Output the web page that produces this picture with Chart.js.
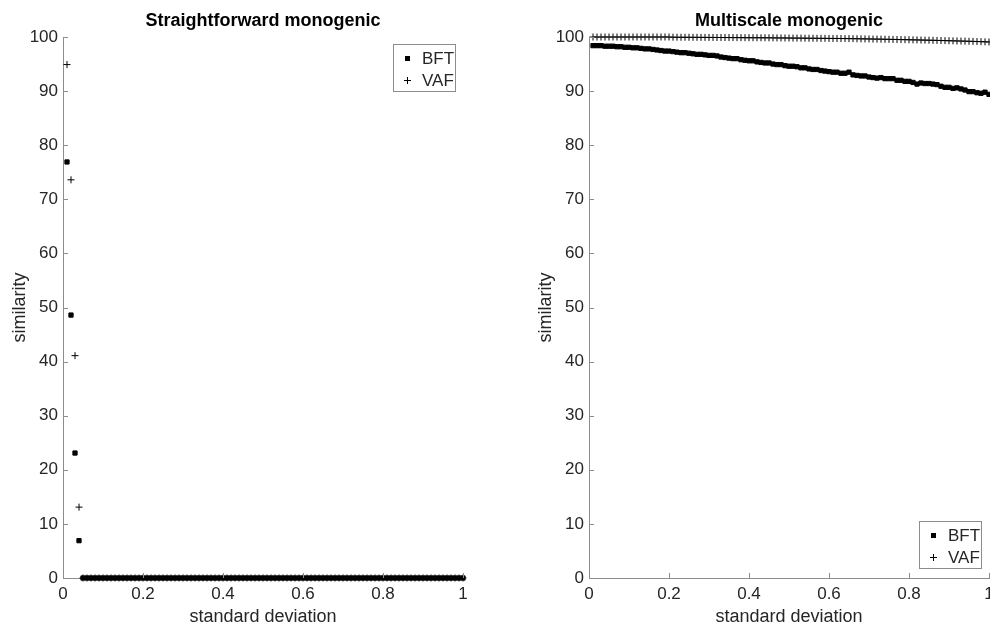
<!DOCTYPE html>
<html>
<head>
<meta charset="utf-8">
<script src="https://cdn.jsdelivr.net/npm/chart.js@4.4.1/dist/chart.umd.min.js"></script>
<style>
  html, body { margin: 0; padding: 0; background: #fff; width: 990px; height: 633px; overflow: hidden; }
  .panel { position: absolute; top: 0; width: 526px; height: 633px; }
  #panel-left { left: 0; }
  #panel-right { left: 526px; }
</style>
</head>
<body>
<div class="panel" id="panel-left"><canvas id="chart-left" width="526" height="633"></canvas></div>
<div class="panel" id="panel-right"><canvas id="chart-right" width="526" height="633"></canvas></div>
<script>
// standard deviation of the added noise
const sigma = [
  0.01, 0.02, 0.03, 0.04, 0.05, 0.06, 0.07, 0.08, 0.09, 0.10,
  0.11, 0.12, 0.13, 0.14, 0.15, 0.16, 0.17, 0.18, 0.19, 0.20,
  0.21, 0.22, 0.23, 0.24, 0.25, 0.26, 0.27, 0.28, 0.29, 0.30,
  0.31, 0.32, 0.33, 0.34, 0.35, 0.36, 0.37, 0.38, 0.39, 0.40,
  0.41, 0.42, 0.43, 0.44, 0.45, 0.46, 0.47, 0.48, 0.49, 0.50,
  0.51, 0.52, 0.53, 0.54, 0.55, 0.56, 0.57, 0.58, 0.59, 0.60,
  0.61, 0.62, 0.63, 0.64, 0.65, 0.66, 0.67, 0.68, 0.69, 0.70,
  0.71, 0.72, 0.73, 0.74, 0.75, 0.76, 0.77, 0.78, 0.79, 0.80,
  0.81, 0.82, 0.83, 0.84, 0.85, 0.86, 0.87, 0.88, 0.89, 0.90,
  0.91, 0.92, 0.93, 0.94, 0.95, 0.96, 0.97, 0.98, 0.99, 1.00
];

// Straightforward monogenic
const straightBFT = [
  76.9, 48.6, 23.1, 6.9, 0, 0, 0, 0, 0, 0,
  0, 0, 0, 0, 0, 0, 0, 0, 0, 0,
  0, 0, 0, 0, 0, 0, 0, 0, 0, 0,
  0, 0, 0, 0, 0, 0, 0, 0, 0, 0,
  0, 0, 0, 0, 0, 0, 0, 0, 0, 0,
  0, 0, 0, 0, 0, 0, 0, 0, 0, 0,
  0, 0, 0, 0, 0, 0, 0, 0, 0, 0,
  0, 0, 0, 0, 0, 0, 0, 0, 0, 0,
  0, 0, 0, 0, 0, 0, 0, 0, 0, 0,
  0, 0, 0, 0, 0, 0, 0, 0, 0, 0
];
const straightVAF = [
  94.9, 73.6, 41.1, 13.1, 0, 0, 0, 0, 0, 0,
  0, 0, 0, 0, 0, 0, 0, 0, 0, 0,
  0, 0, 0, 0, 0, 0, 0, 0, 0, 0,
  0, 0, 0, 0, 0, 0, 0, 0, 0, 0,
  0, 0, 0, 0, 0, 0, 0, 0, 0, 0,
  0, 0, 0, 0, 0, 0, 0, 0, 0, 0,
  0, 0, 0, 0, 0, 0, 0, 0, 0, 0,
  0, 0, 0, 0, 0, 0, 0, 0, 0, 0,
  0, 0, 0, 0, 0, 0, 0, 0, 0, 0,
  0, 0, 0, 0, 0, 0, 0, 0, 0, 0
];

// Multiscale monogenic
const multiBFT = [
  98.4, 98.4, 98.4, 98.3, 98.3, 98.3, 98.2, 98.2, 98.1, 98.1,
  98.0, 98.0, 97.9, 97.8, 97.8, 97.7, 97.6, 97.5, 97.4, 97.4,
  97.3, 97.2, 97.1, 97.1, 97.0, 96.9, 96.8, 96.8, 96.7, 96.6,
  96.6, 96.5, 96.3, 96.2, 96.1, 96.0, 96.0, 95.8, 95.7, 95.6,
  95.6, 95.4, 95.3, 95.2, 95.2, 95.0, 94.9, 94.9, 94.7, 94.6,
  94.6, 94.5, 94.3, 94.3, 94.1, 94.0, 94.0, 93.8, 93.7, 93.6,
  93.5, 93.5, 93.3, 93.3, 93.5, 93.0, 92.9, 92.8, 92.8, 92.6,
  92.5, 92.4, 92.5, 92.3, 92.3, 92.3, 92.0, 92.0, 91.8, 91.8,
  91.6, 91.3, 91.5, 91.4, 91.4, 91.3, 91.2, 90.9, 90.7, 90.7,
  90.5, 90.6, 90.4, 90.2, 89.9, 89.9, 89.7, 89.6, 89.8, 89.4
];
const multiVAF = [
  100.0, 100.0, 100.0, 100.0, 100.0, 100.0, 100.0, 100.0, 100.0, 100.0,
  100.0, 100.0, 100.0, 100.0, 100.0, 100.0, 100.0, 100.0, 100.0, 100.0,
  99.96, 99.96, 99.95, 99.95, 99.95, 99.94, 99.94, 99.93, 99.93, 99.92,
  99.92, 99.91, 99.91, 99.90, 99.90, 99.89, 99.89, 99.88, 99.87, 99.87,
  99.87, 99.86, 99.86, 99.85, 99.85, 99.84, 99.83, 99.82, 99.82, 99.81,
  99.80, 99.80, 99.79, 99.78, 99.77, 99.77, 99.76, 99.75, 99.75, 99.74,
  99.73, 99.73, 99.72, 99.71, 99.70, 99.69, 99.68, 99.66, 99.65, 99.64,
  99.62, 99.61, 99.60, 99.58, 99.57, 99.55, 99.54, 99.52, 99.51, 99.49,
  99.47, 99.46, 99.44, 99.42, 99.41, 99.39, 99.37, 99.35, 99.33, 99.31,
  99.29, 99.27, 99.25, 99.23, 99.21, 99.19, 99.16, 99.14, 99.11, 99.08
];

const seriesNames = ['BFT', 'VAF'];
const xTicks = [0, 0.2, 0.4, 0.6, 0.8, 1];
const yTicks = [0, 10, 20, 30, 40, 50, 60, 70, 80, 90, 100];

const FONT = '"Liberation Sans", Arial, sans-serif';
const AXIS_COLOR = '#8c8c8c';
const TEXT_COLOR = '#262626';

// title, inward ticks and boxed legend, the way the matlab figure has them
const panelDecor = {
  id: 'panelDecor',
  afterDraw(chart, args, opts) {
    const {ctx, chartArea: a, scales: {x, y}} = chart;
    ctx.save();
    ctx.strokeStyle = AXIS_COLOR;
    ctx.lineWidth = 1;
    ctx.beginPath();
    x.ticks.forEach(t => {
      const px = Math.round(x.getPixelForValue(t.value)) + 0.5;
      ctx.moveTo(px, a.bottom);
      ctx.lineTo(px, a.bottom - 5);
    });
    y.ticks.forEach(t => {
      const py = Math.round(y.getPixelForValue(t.value)) + 0.5;
      ctx.moveTo(a.left, py);
      ctx.lineTo(a.left + 5, py);
    });
    ctx.stroke();

    ctx.fillStyle = '#000';
    ctx.font = 'bold 18px ' + FONT;
    ctx.textAlign = 'center';
    ctx.textBaseline = 'middle';
    ctx.fillText(opts.title, (a.left + a.right) / 2, 21);

    const w = 62, h = 47;
    const left = a.right - 8 - w;
    const top = opts.legendAt === 'top' ? a.top + 7 : a.bottom - 10 - h;
    ctx.fillStyle = '#fff';
    ctx.fillRect(left, top, w, h);
    ctx.strokeStyle = AXIS_COLOR;
    ctx.strokeRect(left + 0.5, top + 0.5, w, h);
    ctx.font = '17px ' + FONT;
    ctx.textAlign = 'left';
    chart.data.datasets.forEach((ds, i) => {
      const cy = top + 14 + i * 22;
      const cx = left + 14;
      ctx.fillStyle = '#000';
      ctx.strokeStyle = '#000';
      if (ds.pointStyle === 'rect') {
        ctx.fillRect(cx - 2, cy - 2, 5, 5);
      } else {
        ctx.beginPath();
        ctx.moveTo(cx - 3, cy + 0.5); ctx.lineTo(cx + 4, cy + 0.5);
        ctx.moveTo(cx + 0.5, cy - 3); ctx.lineTo(cx + 0.5, cy + 4);
        ctx.stroke();
      }
      ctx.fillStyle = TEXT_COLOR;
      ctx.fillText(ds.label, left + 29, cy + 1);
    });
    ctx.restore();
  }
};

function toPoints(values) {
  return values.map((v, i) => ({x: sigma[i], y: v}));
}

function makePanel(canvasId, title, bft, vaf, legendAt) {
  return new Chart(document.getElementById(canvasId), {
    type: 'scatter',
    data: {
      datasets: [
        {
          label: seriesNames[0],
          data: toPoints(bft),
          pointStyle: 'rect',
          pointRadius: 3,
          borderWidth: 1,
          backgroundColor: '#000',
          borderColor: '#000',
          clip: false
        },
        {
          label: seriesNames[1],
          data: toPoints(vaf),
          pointStyle: 'cross',
          pointRadius: 3.5,
          borderWidth: 1,
          backgroundColor: '#000',
          borderColor: '#000',
          clip: false
        }
      ]
    },
    options: {
      responsive: false,
      animation: false,
      devicePixelRatio: 1,
      layout: {padding: {top: 37, right: 63, left: 0, bottom: 0}},
      plugins: {
        legend: {display: false},
        tooltip: {enabled: false},
        panelDecor: {title: title, legendAt: legendAt}
      },
      scales: {
        x: {
          type: 'linear',
          min: 0,
          max: 1,
          afterFit(scale) { scale.height = 55; },
          afterBuildTicks(scale) { scale.ticks = xTicks.map(v => ({value: v})); },
          ticks: {color: TEXT_COLOR, font: {family: FONT, size: 17}, padding: 6, maxRotation: 0,
                  callback: v => String(v)},
          grid: {display: false, drawTicks: false},
          border: {display: true, color: AXIS_COLOR, width: 1},
          title: {display: true, text: 'standard deviation', color: TEXT_COLOR,
                  font: {family: FONT, size: 18}, padding: {top: 0, bottom: 5}}
        },
        y: {
          type: 'linear',
          min: 0,
          max: 100,
          afterFit(scale) { scale.width = 63; },
          afterBuildTicks(scale) { scale.ticks = yTicks.map(v => ({value: v})); },
          ticks: {color: TEXT_COLOR, font: {family: FONT, size: 17}, padding: 5,
                  callback: v => String(v)},
          grid: {display: false, drawTicks: false},
          border: {display: true, color: AXIS_COLOR, width: 1},
          title: {display: true, text: 'similarity', color: TEXT_COLOR,
                  font: {family: FONT, size: 18}, padding: {top: 9, bottom: 0}}
        }
      }
    },
    plugins: [panelDecor]
  });
}

makePanel('chart-left', 'Straightforward monogenic', straightBFT, straightVAF, 'top');
makePanel('chart-right', 'Multiscale monogenic', multiBFT, multiVAF, 'bottom');
</script>
</body>
</html>
